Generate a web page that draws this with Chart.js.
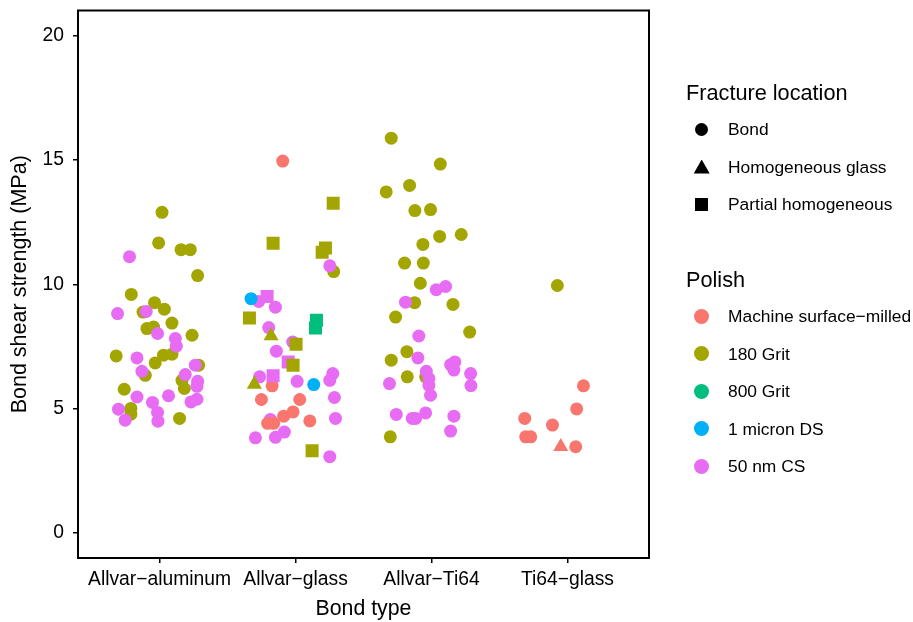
<!DOCTYPE html>
<html lang="en">
<head>
  <meta charset="UTF-8" />
  <title>Bond shear strength</title>
  <script src="https://cdn.jsdelivr.net/npm/chart.js"></script>
  <style>
    body { margin: 0; background: #fff; font-family: "Liberation Sans", Arial, sans-serif; color: #000; }
    #wrap { position: relative; width: 913px; height: 622px; overflow: hidden; }
    #legend div { position: absolute; white-space: nowrap; }
  </style>
</head>
<body>
  <div id="wrap">
    <canvas id="chart" width="913" height="622"></canvas>
    <div id="legend"></div>
  </div>

  <script>
    // categories and legend levels
    const categories = ['Allvar\u2212aluminum', 'Allvar\u2212glass', 'Allvar\u2212Ti64', 'Ti64\u2212glass'];
    const polishLevels = ['Machine surface\u2212milled', '180 Grit', '800 Grit', '1 micron DS', '50 nm CS'];
    const polishColors = ['#F8766D', '#A3A500', '#00BF7D', '#00B0F6', '#E76BF3'];
    const fractureLevels = ['Bond', 'Homogeneous glass', 'Partial homogeneous'];
    const fractureShapes = ['circle', 'triangle', 'rect'];
    const yTicks = [0, 5, 10, 15, 20];

    // points: [bond type index, jitter, strength MPa]
    const grit180Bond = [
      [1, 0.018, 12.89], [1, -0.007, 11.66], [1, 0.158, 11.39], [1, 0.226, 11.39], [1, 0.280, 10.35],
      [1, -0.208, 9.59], [1, -0.037, 9.26], [1, 0.035, 9.00], [1, -0.122, 8.88], [1, 0.091, 8.44],
      [1, -0.093, 8.22], [1, -0.044, 8.28], [1, 0.239, 7.95], [1, -0.319, 7.12], [1, -0.032, 6.84],
      [1, 0.029, 7.15], [1, 0.091, 7.19], [1, 0.287, 6.75], [1, -0.105, 6.34], [1, 0.165, 6.14],
      [1, 0.182, 5.81], [1, -0.260, 5.78], [1, -0.211, 5.01], [1, -0.211, 4.78], [1, 0.147, 4.61],
      [2, 0.281, 10.51],
      [3, -0.296, 15.87], [3, 0.065, 14.83], [3, -0.161, 13.97], [3, -0.333, 13.71], [3, -0.122, 12.96],
      [3, -0.007, 13.00], [3, 0.219, 12.00], [3, 0.060, 11.92], [3, -0.063, 11.60], [3, -0.198, 10.85],
      [3, -0.060, 10.85], [3, -0.082, 10.04], [3, -0.124, 9.26], [3, 0.158, 9.19], [3, -0.264, 8.68],
      [3, 0.281, 8.08], [3, -0.181, 7.29], [3, -0.296, 6.95], [3, -0.043, 6.28], [3, -0.178, 6.28],
      [3, -0.303, 3.87],
      [4, -0.074, 9.95]
    ];
    const grit180Glass = [[2, -0.180, 7.92], [2, -0.303, 5.98]];
    const grit180Partial = [
      [2, 0.277, 13.25], [2, -0.165, 11.65], [2, 0.220, 11.46], [2, 0.196, 11.29],
      [2, -0.339, 8.64], [2, 0.004, 7.59], [2, -0.018, 6.75], [2, 0.122, 3.31]
    ];
    const machineBond = [
      [2, -0.094, 14.95], [2, -0.172, 5.92], [2, -0.251, 5.37], [2, 0.031, 5.37], [2, -0.018, 4.87],
      [2, -0.087, 4.70], [2, 0.105, 4.51], [2, -0.205, 4.41], [2, -0.161, 4.41],
      [4, 0.118, 5.92], [4, 0.068, 4.99], [4, -0.314, 4.61], [4, -0.110, 4.34], [4, -0.307, 3.87],
      [4, -0.270, 3.87], [4, 0.061, 3.47]
    ];
    const machineGlass = [[4, -0.049, 3.47]];
    const grit800Partial = [[2, 0.154, 8.55], [2, 0.147, 8.24]];
    const micronBond = [[2, -0.327, 9.42], [2, 0.134, 5.97]];
    const cs50Bond = [
      [1, -0.221, 11.11], [1, -0.309, 8.82], [1, -0.098, 8.91], [1, -0.015, 8.02], [1, 0.116, 7.82],
      [1, 0.123, 7.51], [1, -0.166, 7.04], [1, 0.263, 6.75], [1, 0.189, 6.37], [1, -0.130, 6.50],
      [1, 0.280, 6.10], [1, 0.275, 5.90], [1, -0.166, 5.47], [1, 0.066, 5.52], [1, -0.052, 5.25],
      [1, 0.275, 5.38], [1, 0.231, 5.27], [1, -0.302, 4.98], [1, -0.015, 4.85], [1, -0.253, 4.54],
      [1, -0.012, 4.50],
      [2, 0.252, 10.74], [2, -0.271, 9.31], [2, -0.148, 9.08], [2, -0.197, 8.26], [2, -0.021, 7.68],
      [2, -0.141, 7.31], [2, -0.264, 6.28], [2, 0.012, 6.10], [2, 0.274, 6.41], [2, 0.252, 6.14],
      [2, 0.286, 5.45], [2, -0.185, 4.57], [2, 0.294, 4.61], [2, -0.082, 4.06], [2, -0.295, 3.83],
      [2, -0.148, 3.85], [2, 0.252, 3.07],
      [3, 0.035, 9.78], [3, 0.104, 9.91], [3, -0.191, 9.28], [3, -0.093, 7.92], [3, -0.100, 7.04],
      [3, -0.038, 6.50], [3, -0.019, 6.21], [3, 0.141, 6.77], [3, 0.172, 6.88], [3, 0.165, 6.55],
      [3, 0.288, 6.41], [3, 0.290, 5.93], [3, -0.309, 6.01], [3, -0.019, 5.94], [3, -0.007, 5.54],
      [3, -0.259, 4.77], [3, -0.043, 4.83], [3, -0.117, 4.61], [3, -0.141, 4.61], [3, 0.165, 4.70],
      [3, 0.141, 4.10]
    ];
    const cs50Partial = [[2, -0.209, 9.51], [2, -0.054, 6.88], [2, -0.165, 6.32]];

    // drawing order: first one ends up on top
    const series = [
      { polish: 1, fracture: 1, pts: grit180Glass },
      { polish: 0, fracture: 1, pts: machineGlass },
      { polish: 1, fracture: 2, pts: grit180Partial },
      { polish: 4, fracture: 2, pts: cs50Partial },
      { polish: 2, fracture: 2, pts: grit800Partial },
      { polish: 3, fracture: 0, pts: micronBond },
      { polish: 0, fracture: 0, pts: machineBond },
      { polish: 4, fracture: 0, pts: cs50Bond },
      { polish: 1, fracture: 0, pts: grit180Bond }
    ];
    const shapeRadius = { circle: 6.5, triangle: 8.7, rect: 9.2 };

    const datasets = series.map(s => {
      const shape = fractureShapes[s.fracture];
      return {
        label: polishLevels[s.polish] + ' / ' + fractureLevels[s.fracture],
        data: s.pts.map(p => ({ x: p[0] + p[1], y: p[2] })),
        pointStyle: shape,
        pointRadius: shapeRadius[shape],
        backgroundColor: polishColors[s.polish],
        borderWidth: 0
      };
    });

    const frame = {
      id: 'frame',
      afterDraw(chart) {
        const a = chart.chartArea, c = chart.ctx;
        c.save();
        c.strokeStyle = '#000';
        c.lineWidth = 2;
        c.strokeRect(a.left, a.top, a.right - a.left, a.bottom - a.top);
        c.restore();
      }
    };

    const font = { family: '"Liberation Sans", Arial, sans-serif' };
    new Chart(document.getElementById('chart'), {
      type: 'scatter',
      data: { datasets },
      options: {
        responsive: false,
        animation: false,
        layout: { padding: { left: 0, right: 264, top: 10.5, bottom: 0 } },
        plugins: { legend: { display: false }, tooltip: { enabled: false } },
        scales: {
          x: {
            type: 'linear', min: 0.4, max: 4.6,
            afterBuildTicks: s => { s.ticks = categories.map((c, i) => ({ value: i + 1 })); },
            afterFit: s => { s.height = 64; s.paddingLeft = 0; s.paddingRight = 0; },
            ticks: {
              color: '#000', padding: 5, maxRotation: 0, autoSkip: false,
              font: { ...font, size: 19.3 },
              callback: v => categories[Math.round(v) - 1]
            },
            grid: { drawOnChartArea: false, color: '#000', lineWidth: 1.5, tickLength: 5 },
            border: { display: false },
            title: { display: true, text: 'Bond type', color: '#000', font: { ...font, size: 21.3 }, padding: { top: 0, bottom: 0 } }
          },
          y: {
            min: -1, max: 21,
            afterBuildTicks: s => { s.ticks = yTicks.map(v => ({ value: v })); },
            afterFit: s => { s.width = 78; s.paddingTop = 0; s.paddingBottom = 0; },
            ticks: { color: '#000', padding: 9, font: { ...font, size: 19.3 } },
            grid: { drawOnChartArea: false, color: '#000', lineWidth: 1.5, tickLength: 5 },
            border: { display: false },
            title: { display: true, text: 'Bond shear strength (MPa)', color: '#000', font: { ...font, size: 21.5 }, padding: { top: 7, bottom: 0 } }
          }
        }
      },
      plugins: [frame]
    });

    // legend built as html next to the panel
    const legend = document.getElementById('legend');
    function addText(text, x, cy, size) {
      const d = document.createElement('div');
      d.textContent = text;
      d.style.left = x + 'px';
      d.style.top = (cy - 13) + 'px';
      d.style.lineHeight = '26px';
      d.style.fontSize = size + 'px';
      legend.appendChild(d);
    }
    function addMarker(shape, color, cx, cy, size) {
      const d = document.createElement('div');
      let w = size, h = size;
      if (shape === 'triangle') { w = size + 3; h = size + 1; d.style.clipPath = 'polygon(50% 0, 100% 100%, 0 100%)'; }
      if (shape === 'circle') d.style.borderRadius = '50%';
      d.style.width = w + 'px';
      d.style.height = h + 'px';
      d.style.left = (cx - w / 2) + 'px';
      d.style.top = (cy - h / 2) + 'px';
      d.style.background = color;
      legend.appendChild(d);
    }
    addText('Fracture location', 686, 93, 21.7);
    fractureLevels.forEach((f, i) => {
      const cy = 129 + i * 37.5;
      addMarker(fractureShapes[i], '#000', 701.7, cy, 13);
      addText(f, 728, cy, 17.4);
    });
    addText('Polish', 686, 280, 21.7);
    polishLevels.forEach((p, i) => {
      const cy = 316 + i * 37.5;
      addMarker('circle', polishColors[i], 701.7, cy, 15);
      addText(p, 728, cy, 17.4);
    });
  </script>
</body>
</html>
